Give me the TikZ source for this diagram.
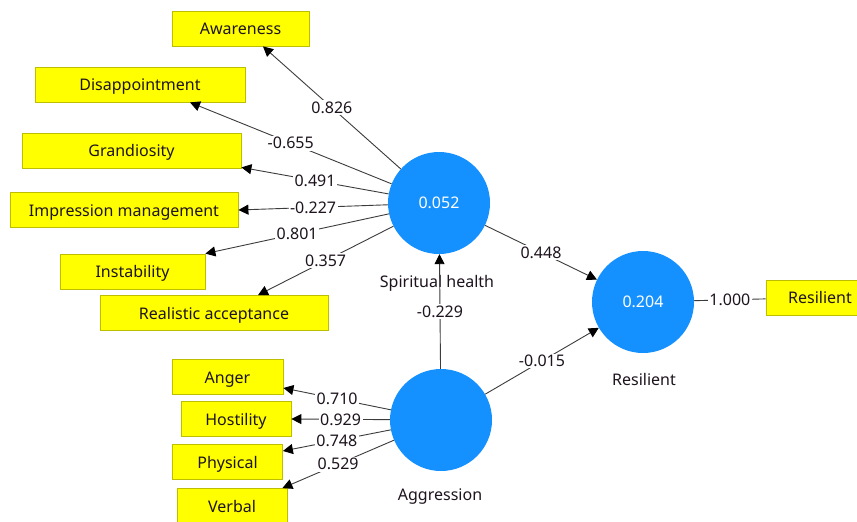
\documentclass[tikz,border=0pt]{standalone}
\usepackage{fontspec}
\setmainfont{Noto Sans}
\usetikzlibrary{arrows.meta}
\definecolor{boxfill}{RGB}{255,255,0}
\definecolor{boxline}{RGB}{190,190,0}
\definecolor{lvblue}{RGB}{20,145,255}
\definecolor{edgecol}{RGB}{60,60,60}
\definecolor{txt}{RGB}{30,20,30}
\begin{document}
\begin{tikzpicture}[x=1pt,y=-1pt, font=\fontsize{16}{19}\selectfont,
 ind/.style={draw=boxline, fill=boxfill, line width=0.8pt, minimum height=35pt, inner sep=0pt, text=txt, text height=12.5pt, text depth=0pt},
 latent/.style={circle, fill=lvblue, minimum size=102pt, inner sep=0pt, text=white},
 coef/.style={fill=white, inner sep=1.5pt, text=txt},
 pathline/.style={draw=edgecol, line width=0.9pt, -{Triangle[length=10pt,width=10pt,color=black]}},
 plainline/.style={draw=edgecol, line width=0.9pt},
 captxt/.style={text=txt}
]
\clip (0,0) rectangle (857,522);
\fill[white] (0,0) rectangle (857,522);

% latent variables
\node[latent] (sp) at (439,203) {0.052};
\node[latent] (res) at (643,302) {0.204};
\node[latent] (ag) at (441,420) {};
\node[captxt] (spl) at (437,283) {Spiritual health};
\node[captxt] (resl) at (644,379) {Resilient};
\node[captxt] (agl) at (440,497) {Aggression};

% indicators
\node[ind, minimum width=137pt] (aw) at (240.5,28.5) {Awareness};
\node[ind, minimum width=210pt] (dis) at (140,84.5) {Disappointment};
\node[ind, minimum width=219pt] (gra) at (131.5,150.5) {Grandiosity};
\node[ind, minimum width=228pt] (imp) at (124,210) {Impression management};
\node[ind, minimum width=145pt] (ins) at (132.5,271.5) {Instability};
\node[ind, minimum width=228pt] (rea) at (214,313) {Realistic acceptance};
\node[ind, minimum width=111pt] (ang) at (227.5,377) {Anger};
\node[ind, minimum width=110pt] (hos) at (236,419) {Hostility};
\node[ind, minimum width=110pt] (phy) at (227.5,462) {Physical};
\node[ind, minimum width=110pt] (ver) at (232,506) {Verbal};
\node[ind, minimum width=108pt] (rbox) at (820,297.5) {Resilient};

% outer loadings of spiritual health
\draw[pathline] (sp) -- node[coef] {0.826} ([xshift=22.5pt]aw.south);
\draw[pathline] (sp) -- node[coef] {-0.655} ([xshift=50pt]dis.south);
\draw[pathline] (sp) -- node[coef] {0.491} ([yshift=1pt]gra.south east);
\draw[pathline] (sp) -- node[coef] {-0.227} (imp.east);
\draw[pathline] (sp) -- node[coef] {0.801} (ins.north east);
\draw[pathline] (sp) -- node[coef] {0.357} ([xshift=44pt]rea.north);

% outer loadings of aggression
\draw[pathline] (ag) -- node[coef] {0.710} ([yshift=-11pt]ang.east);
\draw[pathline] (ag) -- node[coef] {0.929} (hos.east);
\draw[pathline] (ag) -- node[coef] {0.748} ([yshift=11pt]phy.east);
\draw[pathline] (ag) -- node[coef] {0.529} ([xshift=-5pt]ver.north east);

% structural paths
\draw[pathline] (ag) -- node[coef] {-0.229} (sp);
\draw[pathline] (sp) -- node[coef] {0.448} (res);
\draw[pathline] (ag) -- node[coef] {-0.015} (res);
\draw[plainline] (res) -- node[coef] {1.000} (rbox);
\end{tikzpicture}
\end{document}
